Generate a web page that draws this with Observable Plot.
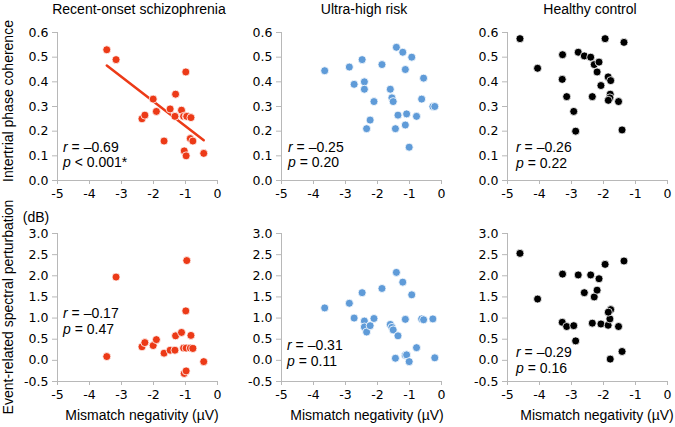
<!DOCTYPE html>
<html>
<head>
<meta charset="utf-8">
<script src="https://cdn.jsdelivr.net/npm/d3@7"></script>
<script src="https://cdn.jsdelivr.net/npm/@observablehq/plot@0.6"></script>
<style>
  body { margin: 0; background: #fff; }
  #wrap { position: relative; width: 675px; height: 427px; background: #fff; overflow: hidden; }
  #wrap > svg.panel { position: absolute; }
  #overlay { position: absolute; left: 0; top: 0; pointer-events: none; }
</style>
</head>
<body>
<div id="wrap"></div>
<script>
// ---------- data ----------
const groups = ["Recent-onset schizophrenia", "Ultra-high risk", "Healthy control"];
const groupColors = ["#EC3A17", "#5F9BD8", "#000000"];

const mmnTicks = [-5, -4, -3, -2, -1, 0];
const itpcTicks = [0, 0.1, 0.2, 0.3, 0.4, 0.5, 0.6];
const erspTicks = [-0.5, 0, 0.5, 1, 1.5, 2, 2.5, 3];

// Recent-onset schizophrenia
const roMmn  = [-3.46, -3.17, -2.36, -2.27, -2.01, -1.91, -1.67, -1.48, -1.33, -1.31, -1.125, -1.06, -1.04, -0.99, -0.98, -0.98, -0.96, -0.85, -0.83, -0.77, -0.43];
const roItpc = [0.53, 0.49, 0.25, 0.265, 0.33, 0.28, 0.16, 0.29, 0.26, 0.35, 0.285, 0.26, 0.12, 0.44, 0.26, 0.10, 0.26, 0.17, 0.255, 0.16, 0.11];
const roErsp = [0.09, 1.97, 0.32, 0.42, 0.35, 0.49, 0.17, 0.24, 0.24, 0.58, 0.66, 0.29, -0.31, 1.17, 0.29, -0.25, 2.36, 0.29, 0.59, 0.28, -0.03];

// Ultra-high risk
const uhrMmn  = [-3.65, -2.88, -2.73, -2.48, -2.41, -2.41, -2.34, -2.23, -2.11, -1.86, -1.60, -1.55, -1.51, -1.44, -1.41, -1.36, -1.21, -1.13, -1.13, -1.09, -1.01, -0.93, -0.78, -0.62, -0.56, -0.27, -0.21];
const uhrItpc = [0.445, 0.46, 0.39, 0.49, 0.40, 0.37, 0.21, 0.245, 0.32, 0.47, 0.37, 0.335, 0.32, 0.21, 0.54, 0.265, 0.52, 0.45, 0.225, 0.27, 0.135, 0.50, 0.26, 0.33, 0.415, 0.30, 0.30];
const uhrErsp = [1.24, 1.35, 1.00, 1.60, 0.93, 0.79, 0.67, 0.82, 0.99, 1.70, 0.85, 0.78, 0.72, 0.05, 2.08, 0.58, 1.85, 0.97, 0.12, 0.13, -0.03, 1.55, 0.30, 0.98, 0.96, 0.98, 0.06];

// Healthy control
const hcMmn  = [-4.61, -4.06, -3.28, -3.29, -3.15, -2.93, -2.87, -2.79, -2.60, -2.40, -2.29, -2.20, -2.14, -2.35, -2.08, -1.95, -1.855, -1.775, -1.79, -1.80, -1.85, -1.53, -1.42, -1.36];
const hcItpc = [0.575, 0.455, 0.51, 0.41, 0.34, 0.28, 0.20, 0.52, 0.505, 0.50, 0.47, 0.44, 0.48, 0.34, 0.385, 0.575, 0.42, 0.405, 0.35, 0.335, 0.325, 0.32, 0.205, 0.56];
const hcErsp = [2.53, 1.45, 2.04, 0.90, 0.80, 0.82, 0.46, 2.02, 1.60, 2.02, 1.50, 1.66, 1.93, 0.88, 0.86, 2.27, 0.83, 1.20, 0.03, 0.98, 1.14, 0.80, 0.21, 2.35];

// statistics text
const itpcR = ["–0.69", "–0.25", "–0.26"];
const itpcP = ["< 0.001*", "= 0.20", "= 0.22"];
const erspR = ["–0.17", "–0.31", "–0.29"];
const erspP = ["= 0.47", "= 0.11", "= 0.16"];

const mmnLabel = "Mismatch negativity (µV)";
const itpcLabel = "Intertrial phase coherence";
const erspLabel = "Event-related spectral perturbation";
const erspUnit = "(dB)";

// ---------- layout ----------
const colLeft = [57, 281, 507];      // plot-area left edges
const plotW = 160;
const rowTop = [32, 233];           // plot-area top edges
const plotH = [148, 148];
const mL = 40, mR = 10, mT = 10, mB = 25;

const wrap = document.getElementById("wrap");
const axisColor = "#b8b8b8";
const tickFont = "DejaVu Sans, Verdana, sans-serif";

const rows = [
  {ys: [roItpc, uhrItpc, hcItpc], ticks: itpcTicks},
  {ys: [roErsp, uhrErsp, hcErsp], ticks: erspTicks}
];
const mmns = [roMmn, uhrMmn, hcMmn];

rows.forEach((row, ri) => {
  for (let ci = 0; ci < 3; ci++) {
    const xs = mmns[ci];
    const data = xs.map((x, i) => ({x, y: row.ys[ci][i]}));
    const yDomain = [row.ticks[0], row.ticks[row.ticks.length - 1]];
    const marks = [
      Plot.ruleX([mmnTicks[0]], {stroke: axisColor, strokeWidth: 1}),
      Plot.ruleY([yDomain[0]], {stroke: axisColor, strokeWidth: 1}),
      Plot.axisX(mmnTicks, {label: null, tickSize: 4, tickPadding: 5, stroke: axisColor, fill: "#000", tickFormat: d => String(d)}),
      Plot.axisY(row.ticks, {label: null, tickSize: 5, tickPadding: 4, stroke: axisColor, fill: "#000", tickFormat: d => d.toFixed(1)})
    ];
    if (ri === 0 && ci === 0) {
      marks.push(Plot.linearRegressionY(data, {x: "x", y: "y", stroke: groupColors[ci], strokeWidth: 2.5, ci: 0}));
    }
    marks.push(Plot.dot(data, {x: "x", y: "y", r: 4, fill: groupColors[ci], stroke: "#fff", strokeWidth: 0.8}));
    const svg = Plot.plot({
      width: mL + plotW + mR,
      height: mT + plotH[ri] + mB,
      marginLeft: mL, marginRight: mR, marginTop: mT, marginBottom: mB,
      x: {domain: [mmnTicks[0], mmnTicks[mmnTicks.length - 1]], label: null},
      y: {domain: yDomain, label: null},
      style: {fontFamily: tickFont, fontSize: "12.5px", background: "transparent", overflow: "visible"},
      marks
    });
    svg.classList.add("panel");
    svg.style.left = (colLeft[ci] - mL) + "px";
    svg.style.top = (rowTop[ri] - mT) + "px";
    wrap.appendChild(svg);
  }
});

// ---------- text overlay ----------
const ov = d3.select(wrap).append("svg")
  .attr("id", "overlay").attr("width", 675).attr("height", 427)
  .style("font-family", "Liberation Sans, Arial, Helvetica, sans-serif")
  .style("font-size", "14px").attr("fill", "#000");

const titleX = [139, 364, 590];
groups.forEach((g, i) => {
  ov.append("text").attr("x", titleX[i]).attr("y", 14).attr("text-anchor", "middle").text(g);
});

const xLabelX = [142, 367, 597];
xLabelX.forEach(x => {
  ov.append("text").attr("x", x).attr("y", 420).attr("text-anchor", "middle").text(mmnLabel);
});

ov.append("text").attr("transform", "translate(13,101) rotate(-90)").attr("text-anchor", "middle").text(itpcLabel);
ov.append("text").attr("transform", "translate(13,307) rotate(-90)").attr("text-anchor", "middle").text(erspLabel);
ov.append("text").attr("x", 36).attr("y", 222).attr("text-anchor", "middle").text(erspUnit);

function stat(x, y1, y2, rv, pv) {
  const t1 = ov.append("text").attr("x", x).attr("y", y1);
  t1.append("tspan").attr("font-style", "italic").text("r");
  t1.append("tspan").text(" = " + rv);
  const t2 = ov.append("text").attr("x", x).attr("y", y2);
  t2.append("tspan").attr("font-style", "italic").text("p");
  t2.append("tspan").text(" " + pv);
}
const statX = [[63, 288, 516], [63, 287, 516]];
const statY = [[[152, 167], [152, 167], [152, 168]], [[318, 334], [350, 366], [357, 373]]];
for (let ci = 0; ci < 3; ci++) {
  stat(statX[0][ci], statY[0][ci][0], statY[0][ci][1], itpcR[ci], itpcP[ci]);
  stat(statX[1][ci], statY[1][ci][0], statY[1][ci][1], erspR[ci], erspP[ci]);
}
</script>
</body>
</html>
